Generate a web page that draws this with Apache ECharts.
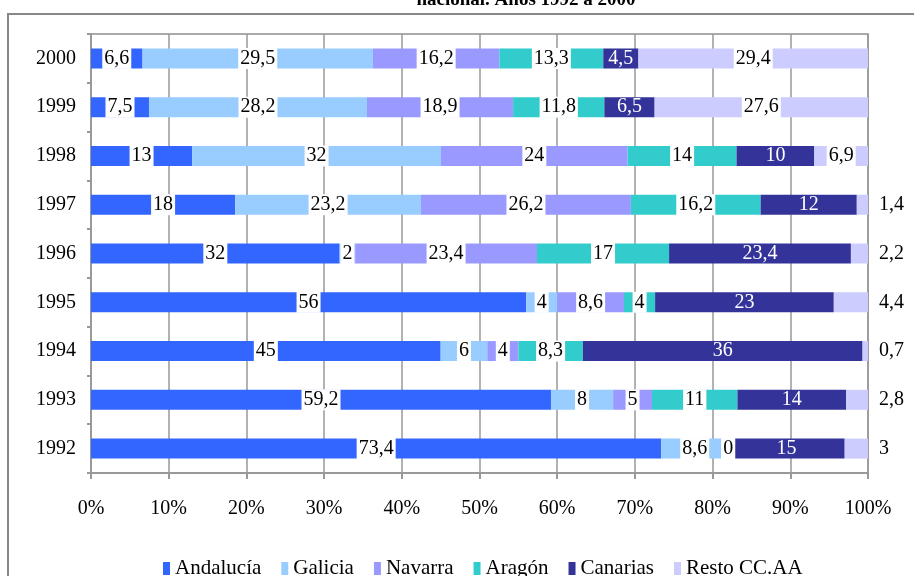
<!DOCTYPE html>
<html>
<head>
<meta charset="utf-8">
<script src="https://cdn.jsdelivr.net/npm/echarts@6/dist/echarts.min.js"></script>
<style>
  html, body { margin: 0; padding: 0; background: #fff; }
  #chart { width: 914px; height: 576px; }
</style>
</head>
<body>
<div id="chart"></div>
<script>
// años (de abajo hacia arriba)
const years = ['1992', '1993', '1994', '1995', '1996', '1997', '1998', '1999', '2000'];

// valores de cada comunidad por año
const andalucia = [73.4, 59.2, 45, 56, 32, 18, 13, 7.5, 6.6];
const galicia   = [8.6, 8, 6, 4, 2, 23.2, 32, 28.2, 29.5];
const navarra   = [0, 5, 4, 8.6, 23.4, 26.2, 24, 18.9, 16.2];
const aragon    = [0, 11, 8.3, 4, 17, 16.2, 14, 11.8, 13.3];
const canarias  = [15, 14, 36, 23, 23.4, 12, 10, 6.5, 4.5];
const resto     = [3, 2.8, 0.7, 4.4, 2.2, 1.4, 6.9, 27.6, 29.4];

const seriesNames = ['Andalucía', 'Galicia', 'Navarra', 'Aragón', 'Canarias', 'Resto CC.AA'];
const seriesValues = [andalucia, galicia, navarra, aragon, canarias, resto];
const colors = ['#3366FF', '#99CCFF', '#9999FF', '#33CCCC', '#333399', '#CCCCFF'];

const xTicks = [0, 10, 20, 30, 40, 50, 60, 70, 80, 90, 100];

const FONT = '"Liberation Serif", "Times New Roman", serif';

// total de cada año para apilar al 100%
const totals = years.map((y, i) => seriesValues.reduce((s, arr) => s + arr[i], 0));

function fmt(v) {
  return String(v).replace('.', ',');
}

const chart = echarts.init(document.getElementById('chart'));

const series = seriesNames.map((name, k) => {
  const isCanarias = k === 4;
  const isResto = k === 5;
  return {
    name: name,
    type: 'bar',
    stack: 'total',
    barWidth: 20,
    itemStyle: { color: colors[k] },
    label: {
      show: true,
      position: 'inside',
      fontFamily: FONT,
      fontSize: 20,
      color: isCanarias ? '#fff' : '#000',
      backgroundColor: isCanarias ? 'transparent' : '#fff',
      padding: [1, 2, 0, 2],
      formatter: p => fmt(seriesValues[k][p.dataIndex])
    },
    data: years.map((y, i) => {
      const item = { value: seriesValues[k][i] / totals[i] * 100 };
      // los valores pequeños de "Resto" se etiquetan fuera de la barra
      if (isResto && seriesValues[k][i] < 5) {
        item.label = { position: 'right', distance: 9, backgroundColor: 'transparent' };
      }
      return item;
    })
  };
});

const option = {
  animation: false,
  color: colors,
  textStyle: { fontFamily: FONT },
  title: {
    text: 'nacional. Años 1992 a 2000',
    left: 521,
    textAlign: 'center',
    top: -14,
    textStyle: { fontFamily: FONT, fontSize: 19, fontWeight: 'bold', color: '#000' }
  },
  graphic: [
    {
      type: 'rect',
      shape: { x: 8, y: 14, width: 940, height: 600 },
      style: { fill: 'none', stroke: '#888', lineWidth: 2 },
      silent: true
    }
  ],
  grid: {
    left: 91,
    right: 46,
    top: 34,
    height: 439,
    show: true,
    borderColor: '#aaa',
    borderWidth: 2,
    containLabel: false
  },
  legend: {
    top: 553,
    left: 158,
    itemWidth: 7,
    itemHeight: 13,
    itemGap: 20,
    icon: 'rect',
    textStyle: { fontFamily: FONT, fontSize: 21, color: '#000' },
    data: seriesNames
  },
  xAxis: {
    type: 'value',
    min: xTicks[0],
    max: xTicks[xTicks.length - 1],
    interval: 10,
    axisLine: { show: true, lineStyle: { color: '#999', width: 2 } },
    axisTick: { show: true, length: 6, lineStyle: { color: '#999', width: 2 } },
    axisLabel: {
      fontFamily: FONT,
      fontSize: 20,
      color: '#000',
      margin: 26,
      formatter: '{value}%'
    },
    splitLine: { show: true, lineStyle: { color: '#999', width: 1.5 } }
  },
  yAxis: {
    type: 'category',
    data: years,
    axisLine: { show: true, lineStyle: { color: '#999', width: 2 } },
    axisTick: { show: true, length: 4, lineStyle: { color: '#999', width: 2 } },
    axisLabel: {
      fontFamily: FONT,
      fontSize: 20,
      color: '#000',
      margin: 15
    }
  },
  series: series
};

chart.setOption(option);
</script>
</body>
</html>
